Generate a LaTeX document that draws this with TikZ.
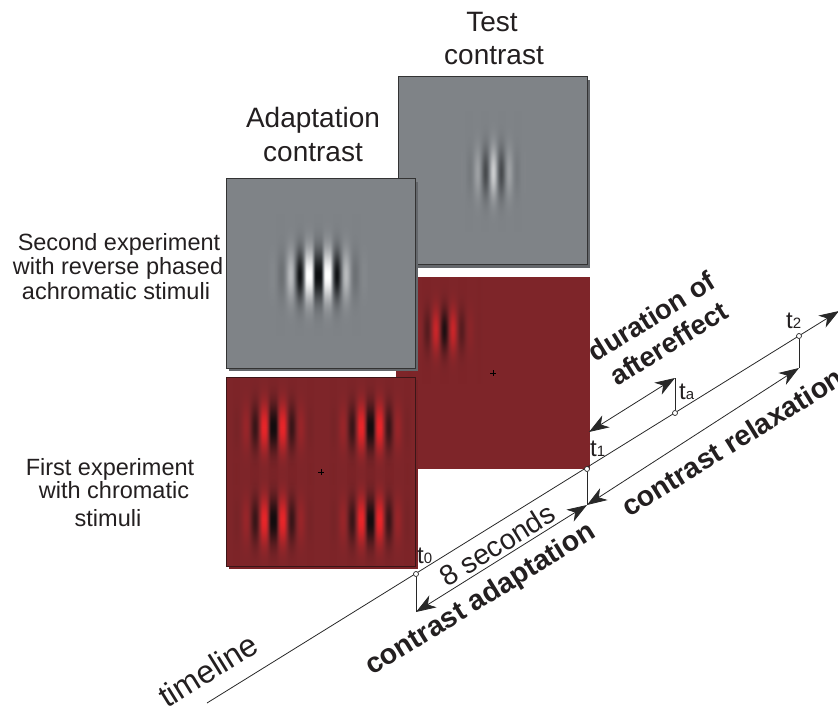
\documentclass[tikz,border=0pt]{standalone}
\usepackage{fontspec}
\setmainfont{Liberation Sans}
\usetikzlibrary{arrows.meta,fadings}

\definecolor{redbg}{RGB}{126,37,41}
\definecolor{redshadow}{RGB}{120,34,38}
\definecolor{redpos}{RGB}{232,38,42}
\definecolor{redneg}{RGB}{18,12,14}
\definecolor{redborder}{RGB}{60,22,24}
\definecolor{graybg}{RGB}{127,131,135}
\definecolor{grayshadow}{RGB}{100,103,107}
\definecolor{graypos}{RGB}{255,255,255}
\definecolor{grayneg}{RGB}{12,14,16}
\definecolor{ink}{RGB}{35,31,32}
\definecolor{lineclr}{RGB}{40,40,40}

\makeatletter
% horizontal Gabor profile: #1 name, #2 period, #3 phase, #4 sigma, #5 amplitude,
% #6 half width, #7 background, #8 positive colour, #9 negative colour
\newcommand\GabDeclare[9]{%
  \xdef\gab@spec{color(0bp)=(#7)}%
  \foreach \gab@i in {0,...,100}{%
    \pgfmathsetmacro\gab@u{-#6+#6*\gab@i/50}%
    \pgfmathsetmacro\gab@pos{25+\gab@i/2}%
    \pgfmathsetmacro\gab@c{#5*cos((\gab@u)/#2*360+#3)*exp(-0.5*((\gab@u)/#4)*((\gab@u)/#4))}%
    \pgfmathtruncatemacro\gab@k{round(min(100,abs(100*\gab@c)))}%
    \ifdim\gab@c pt<0pt
      \xdef\gab@spec{\gab@spec; color(\gab@pos bp)=(#9!\gab@k!#7)}%
    \else
      \xdef\gab@spec{\gab@spec; color(\gab@pos bp)=(#8!\gab@k!#7)}%
    \fi
  }%
  \xdef\gab@spec{\gab@spec; color(100bp)=(#7)}%
  \edef\gab@tmp{\noexpand\pgfdeclarehorizontalshading{#1}{100bp}{\gab@spec}}%
  \gab@tmp
}
% vertical gaussian fading: #1 name, #2 sigma in bp
\newcommand\VGaussDeclare[2]{%
  \xdef\gab@spec{rgb(0bp)=(0,0,0)}%
  \foreach \gab@i in {0,...,50}{%
    \pgfmathtruncatemacro\gab@pos{25+\gab@i}%
    \pgfmathsetmacro\gab@o{exp(-0.5*((\gab@i-25)/#2)*((\gab@i-25)/#2))}%
    \xdef\gab@spec{\gab@spec; rgb(\gab@pos bp)=(\gab@o,\gab@o,\gab@o)}%
  }%
  \xdef\gab@spec{\gab@spec; rgb(100bp)=(0,0,0)}%
  \edef\gab@tmp{\noexpand\pgfdeclareverticalshading{#1shade}{100bp}{\gab@spec}}%
  \gab@tmp
  \pgfdeclarefading{#1}{\pgfuseshading{#1shade}}%
}
\makeatother

% chromatic adaptation gabor: half width 45, half height 60
\GabDeclare{gabC}{19}{180}{15}{1.4}{45}{redbg}{redpos}{redneg}
\VGaussDeclare{vgC}{6.7}
% achromatic adaptation gabor: half width 50, half height 60
\GabDeclare{gabA}{19}{180}{17}{1.8}{50}{graybg}{graypos}{grayneg}
\VGaussDeclare{vgA}{7.1}
% achromatic test gabor: half width 40, half height 60
\GabDeclare{gabT}{16.5}{0}{12}{0.6}{40}{graybg}{graypos}{grayneg}
\VGaussDeclare{vgT}{7.1}
% chromatic test gabor: half width 40, half height 60
\GabDeclare{gabR}{18}{180}{13}{0.9}{40}{redbg}{redpos}{redneg}
\VGaussDeclare{vgR}{6.3}

\newcommand\tsub[1]{{\fontsize{15}{15}\selectfont #1}}

\begin{document}
\begin{tikzpicture}[x=1pt,y=-1pt,
  ttl/.style={font=\fontsize{28}{32}\selectfont, inner sep=0, anchor=base, text=ink},
  side/.style={font=\fontsize{23.5}{26}\selectfont, inner sep=0, anchor=base, text=ink},
  rlab/.style={rotate=31.8, inner sep=0, text=ink},
  boldlab/.style={rlab, font=\fontsize{28.5}{33}\selectfont\bfseries, align=center},
  tlab/.style={font=\fontsize{24}{24}\selectfont, inner sep=0, anchor=base west, text=ink},
  ln/.style={draw=lineclr, line width=0.8pt},
  arr/.style={ln, {Stealth[length=20pt,width=14pt,inset=6pt]}-{Stealth[length=20pt,width=14pt,inset=6pt]}},
  tick/.style={circle, draw=lineclr, fill=white, line width=0.7pt, inner sep=0, minimum size=5pt},
  grayborder/.style={draw=black!80, line width=1pt},
  gabor/.style={path fading=#1, fit fading=true},
  crossmark/.style={draw=black, line width=0.6pt}
]
\useasboundingbox (0,0) rectangle (838,711);

% ---------- test contrast panel (gray) ----------
\fill[grayshadow] (401,80) rectangle (590,268);
\draw[grayborder, fill=graybg] (398,77) rectangle (587,265);
\begin{scope}
\clip (398.5,77.5) rectangle (586.5,264.5);
\shade[shading=gabT, gabor=vgT] (453,112) rectangle (533,232);
\end{scope}

% ---------- test contrast panel (red) ----------
\fill[redbg] (396,277) rectangle (590,469);
\begin{scope}
\clip (396,277) rectangle (590,469);
\shade[shading=gabR, gabor=vgR] (404,270) rectangle (484,390);
\end{scope}
\draw[crossmark] (493,370) -- (493,376) (490,373) -- (496,373);

% ---------- adaptation panel (gray) ----------
\fill[grayshadow] (229,182) rectangle (418,371);
\draw[grayborder, fill=graybg] (226,179) rectangle (415,368);
\begin{scope}
\clip (226.5,179.5) rectangle (414.5,367.5);
\shade[shading=gabA, gabor=vgA] (268,215) rectangle (368,335);
\end{scope}

% ---------- adaptation panel (red) ----------
\fill[redshadow] (229,380) rectangle (418,569);
\draw[draw=redborder, line width=1pt, fill=redbg] (226,377) rectangle (415,566);
\begin{scope}
\clip (226.5,377.5) rectangle (414.5,565.5);
\shade[shading=gabC, gabor=vgC] (228,367) rectangle (318,487);
\shade[shading=gabC, gabor=vgC] (325,367) rectangle (415,487);
\shade[shading=gabC, gabor=vgC] (228,460) rectangle (318,580);
\shade[shading=gabC, gabor=vgC] (325,460) rectangle (415,580);
\end{scope}
\draw[crossmark] (321,469) -- (321,475) (318,472) -- (324,472);

% ---------- titles ----------
\node[ttl] (test1) at (492,32) {Test};
\node[ttl] (test2) at (494,65) {contrast};
\node[ttl] (adap1) at (313,128) {Adaptation};
\node[ttl] (adap2) at (313,162) {contrast};

\node[side] (sec1) at (119,251) {Second experiment};
\node[side] (sec2) at (118,275) {with reverse phased};
\node[side] (sec3) at (116,300) {achromatic stimuli};
\node[side] (fir1) at (110,475) {First experiment};
\node[side] (fir2) at (114,498) {with chromatic};
\node[side] (fir3) at (108,526) {stimuli};

% ---------- timeline ----------
\coordinate (tlstart) at (207,703);
\coordinate (tlend) at (839,311);
\draw[ln, -{Stealth[length=20pt,width=14pt,inset=6pt]}] (tlstart) -- (tlend);

\node[tick] (c0) at (416,574) {};
\node[tick] (c1) at (587,469) {};
\node[tick] (ca) at (675,413) {};
\node[tick] (c2) at (799,336) {};

\coordinate (d0) at (416,612);
\coordinate (d1) at (587,505);
\coordinate (d2) at (799,368);
\coordinate (da) at (675,378);
\coordinate (e1) at (589,432);

\draw[ln] (c0) -- (d0);
\draw[ln] (c1) -- (d1);
\draw[ln] (c2) -- (d2);
\draw[ln] (ca) -- (da);

\draw[arr] (d0) -- (d1);
\draw[arr] (d1) -- (d2);
\draw[arr] (e1) -- (da);

\node[tlab] (lt0) at (417,563) {t\tsub{0}};
\node[tlab] (lt1) at (590,456) {t\tsub{1}};
\node[tlab] (lta) at (679,399) {t\tsub{a}};
\node[tlab] (lt2) at (786,329) {t\tsub{2}};

% ---------- rotated labels ----------
\node[rlab, font=\fontsize{32}{34}\selectfont] (tl) at (208,670) {timeline};
\node[rlab, font=\fontsize{28.5}{32}\selectfont] (eight) at (497,545) {8 seconds};
\node[boldlab] (cadapt) at (481,600) {contrast adaptation};
\node[boldlab] (crelax) at (732,442) {contrast relaxation};
\node[boldlab, font=\fontsize{27.5}{32}\selectfont\bfseries] (durat) at (660,330) {duration of\\aftereffect};
\end{tikzpicture}
\end{document}
